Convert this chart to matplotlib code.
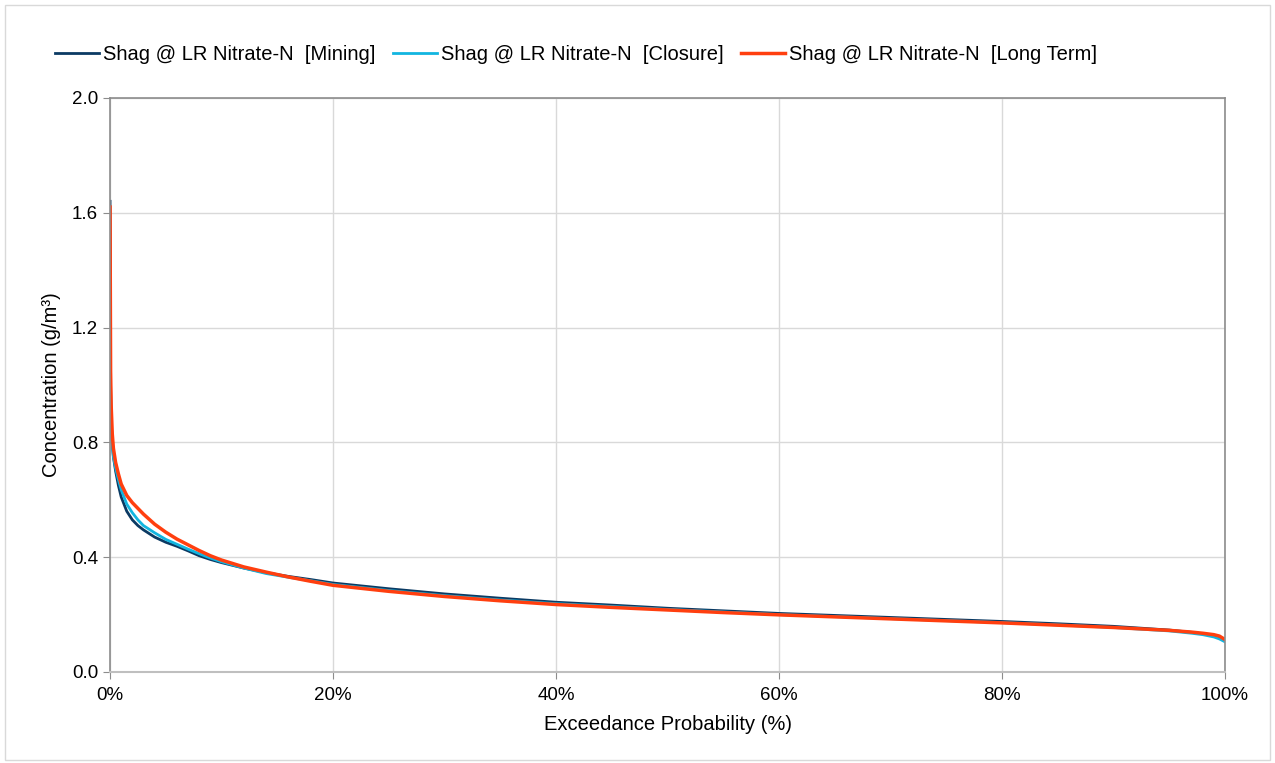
import matplotlib.pyplot as plt
from matplotlib.ticker import FuncFormatter, MultipleLocator
from matplotlib.patches import Rectangle

plt.rcParams['font.family'] = ['Liberation Sans', 'DejaVu Sans']

# exceedance probability (%)
prob = [0, 0.05, 0.1, 0.2, 0.3, 0.5, 0.75, 1, 1.5, 2, 2.5, 3, 4, 5, 6, 7, 8, 9, 10,
        12, 14, 16, 18, 20, 25, 30, 35, 40, 45, 50, 55, 60, 65, 70, 75, 80, 85, 90,
        95, 97, 98, 99, 99.5, 100]

mining = [1.64, 1.0, 0.88, 0.80, 0.75, 0.70, 0.65, 0.61, 0.56, 0.53, 0.51, 0.495, 0.47,
          0.452, 0.438, 0.422, 0.405, 0.392, 0.381, 0.362, 0.346, 0.333, 0.322, 0.31, 0.29,
          0.272, 0.257, 0.243, 0.233, 0.222, 0.213, 0.204, 0.197, 0.19, 0.183, 0.176,
          0.168, 0.159, 0.146, 0.138, 0.133, 0.126, 0.12, 0.11]

closure = [1.45, 0.97, 0.87, 0.79, 0.75, 0.71, 0.67, 0.635, 0.585, 0.555, 0.53, 0.51,
           0.485, 0.462, 0.445, 0.428, 0.412, 0.397, 0.384, 0.362, 0.343, 0.33, 0.318,
           0.305, 0.284, 0.266, 0.251, 0.238, 0.228, 0.218, 0.209, 0.2, 0.193, 0.186,
           0.179, 0.172, 0.164, 0.155, 0.143, 0.135, 0.13, 0.122, 0.115, 0.105]

long_term = [1.62, 1.05, 0.93, 0.83, 0.78, 0.73, 0.69, 0.655, 0.615, 0.59, 0.57, 0.55,
             0.515, 0.487, 0.463, 0.443, 0.423, 0.405, 0.39, 0.366, 0.348, 0.331, 0.316,
             0.302, 0.281, 0.263, 0.248, 0.235, 0.225, 0.216, 0.207, 0.199, 0.192, 0.185,
             0.178, 0.171, 0.163, 0.155, 0.145, 0.139, 0.135, 0.13, 0.125, 0.113]

labels = ['Shag @ LR Nitrate-N  [Mining]',
          'Shag @ LR Nitrate-N  [Closure]',
          'Shag @ LR Nitrate-N  [Long Term]']

fig = plt.figure(figsize=(12.75, 7.63), dpi=100)
ax = fig.add_axes([0.0863, 0.1193, 0.8745, 0.7523])

# outer chart border
fig.patches.append(Rectangle((0.004, 0.004), 0.992, 0.990, transform=fig.transFigure,
                             fill=False, edgecolor='#d9d9d9', linewidth=1))

ax.plot(prob, mining, color='#0b3a63', lw=2.0, label=labels[0])
ax.plot(prob, closure, color='#12b5e0', lw=2.0, label=labels[1])
ax.plot(prob, long_term, color='#ff3f0f', lw=2.5, label=labels[2])

ax.set_xlim(0, 100)
ax.set_ylim(0, 2.0)
ax.xaxis.set_major_locator(MultipleLocator(20))
ax.yaxis.set_major_locator(MultipleLocator(0.4))
ax.xaxis.set_major_formatter(FuncFormatter(lambda v, p: '%d%%' % v))
ax.yaxis.set_major_formatter(FuncFormatter(lambda v, p: '%.1f' % v))
ax.grid(True, color='#d9d9d9', lw=1)
ax.set_axisbelow(True)

for s in ['left', 'top', 'right']:
    ax.spines[s].set_color('#8c8c8c')
    ax.spines[s].set_linewidth(1.2)
ax.spines['bottom'].set_color('#bfbfbf')
ax.spines['bottom'].set_linewidth(1.5)
ax.tick_params(axis='both', labelsize=13.5, colors='#8c8c8c', labelcolor='black',
               length=5, direction='out')
ax.tick_params(axis='x', pad=6)

ax.set_xlabel('Exceedance Probability (%)', fontsize=14.5, labelpad=8)
ax.set_ylabel('Concentration (g/m³)', fontsize=14.5, labelpad=8)

ax.legend(loc='center left', bbox_to_anchor=(0.043, 0.929), bbox_transform=fig.transFigure,
          ncol=3, frameon=False, fontsize=14.5, handlelength=2.2, handletextpad=0.2,
          columnspacing=0.85, borderaxespad=0, borderpad=0)

fig.savefig('out.png', dpi=100)
